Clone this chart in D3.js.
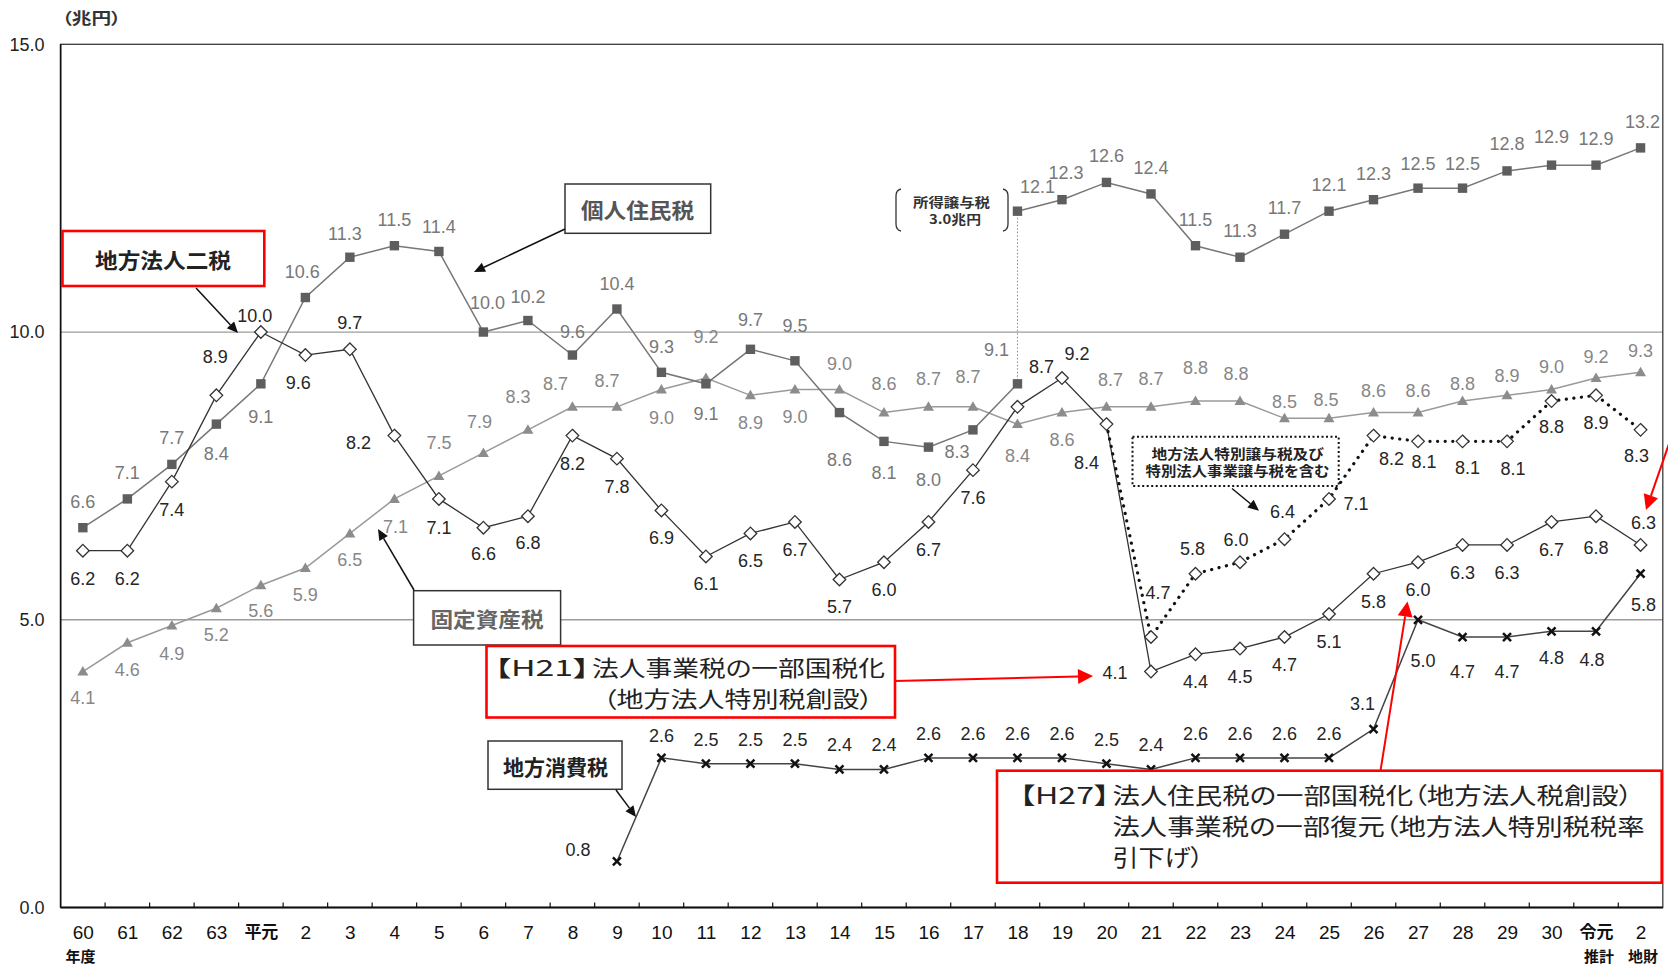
<!DOCTYPE html>
<html>
<head>
<meta charset="utf-8">
<script src="https://cdn.jsdelivr.net/npm/d3@7"></script>
<style>
  html, body { margin: 0; padding: 0; background: #fff; }
  svg { display: block; }
  text { font-family: "Liberation Sans", Arial, "Noto Sans CJK JP", sans-serif; }
  .jp { font-family: "Noto Sans CJK JP", sans-serif; }
</style>
</head>
<body>
<svg id="chart" width="1668" height="968"></svg>
<script>
// ---- data (兆円) ----
const categories = ["60","61","62","63","平元","2","3","4","5","6","7","8","9","10","11","12","13","14","15","16","17","18","19","20","21","22","23","24","25","26","27","28","29","30","令元","2"];
const yTicks = [0, 5, 10, 15];

// 個人住民税 (平成18年度以降は所得譲与税を含む)
const kojinJuminzei = [6.6,7.1,7.7,8.4,9.1,10.6,11.3,11.5,11.4,10.0,10.2,9.6,10.4,9.3,9.1,9.7,9.5,8.6,8.1,8.0,8.3,12.1,12.3,12.6,12.4,11.5,11.3,11.7,12.1,12.3,12.5,12.5,12.8,12.9,12.9,13.2];
const kojinExclJoyo = 9.1;      // 平成18年度 所得譲与税を除く
const joyoIndex = 21;           // 平成18年度
const shotokuJoyo = 3.0;        // 所得譲与税

// 固定資産税
const koteiShisanzei = [4.1,4.6,4.9,5.2,5.6,5.9,6.5,7.1,7.5,7.9,8.3,8.7,8.7,9.0,9.2,8.9,9.0,9.0,8.6,8.7,8.7,8.4,8.6,8.7,8.7,8.8,8.8,8.5,8.5,8.6,8.6,8.8,8.9,9.0,9.2,9.3];

// 地方法人二税
const hojinNizei = [6.2,6.2,7.4,8.9,10.0,9.6,9.7,8.2,7.1,6.6,6.8,8.2,7.8,6.9,6.1,6.5,6.7,5.7,6.0,6.7,7.6,8.7,9.2,8.4,4.1,4.4,4.5,4.7,5.1,5.8,6.0,6.3,6.3,6.7,6.8,6.3];

// 地方法人特別譲与税及び特別法人事業譲与税を含む
const hojinNizeiInclJoyo = [null,null,null,null,null,null,null,null,null,null,null,null,null,null,null,null,null,null,null,null,null,null,null,8.4,4.7,5.8,6.0,6.4,7.1,8.2,8.1,8.1,8.1,8.8,8.9,8.3];

// 地方消費税
const chihoShohizei = [null,null,null,null,null,null,null,null,null,null,null,null,0.8,2.6,2.5,2.5,2.5,2.4,2.4,2.6,2.6,2.6,2.6,2.5,2.4,2.6,2.6,2.6,2.6,3.1,5.0,4.7,4.7,4.8,4.8,5.8];

// ---- value label placement (dx, dy from the marker) ----
const kojinLabelOff = {default:[0,-26], 3:[0,30], 4:[0,33], 5:[-3,-26], 6:[-5,-23], 8:[0,-24], 9:[4,-29], 10:[0,-24], 11:[0,-23], 12:[0,-25], 13:[0,-25], 14:[0,30], 15:[0,-29], 16:[0,-35], 17:[0,47], 18:[0,32], 19:[0,33], 20:[-16,22], 21:[20,-24], 22:[4,-27], 30:[0,-24], 31:[0,-24], 32:[0,-27], 33:[0,-28], 35:[2,-26]};
const kojinExclLabelOff = [-21,-34];
const koteiLabelOff = [[0,26],[0,27],[0,28],[0,27],[0,26],[0,27],[0,27],[1,28],[0,-33],[-4,-31],[-10,-33],[-17,-23],[-10,-26],[0,28],[0,-41],[0,28],[0,27],[0,-26],[0,-29],[0,-28],[-5,-30],[0,32],[0,27],[4,-27],[0,-28],[0,-33],[-4,-27],[0,-16],[-3,-18],[0,-22],[0,-22],[0,-17],[0,-19],[0,-23],[0,-21],[0,-21]];
const hojinLabelOff = {default:[0,28], 3:[-1,-38], 4:[-6,-16], 5:[-7,28], 6:[0,-26], 7:[-36,7], 8:[0,29], 9:[0,26], 10:[0,27], 21:[24,-40], 22:[15,-24], 23:[-20,39], 24:[-36,1], 34:[0,32], 35:[3,-22]};
const hojinInclLabelOff = {24:[7,-44], 25:[-3,-25], 26:[-4,-22], 27:[-2,-27], 28:[27,5], 29:[18,23], 30:[6,21], 31:[5,27], 32:[6,28], 33:[0,26], 34:[0,28], 35:[-4,26]};
const shohiLabelOff = {default:[0,-24], 12:[-39,-11], 13:[0,-22], 29:[-11,-25], 30:[5,41], 31:[0,35], 32:[0,35], 33:[0,27], 34:[-4,29], 35:[3,31]};

// ---- scales ----
const svg = d3.select("#chart");
const plot = {left: 60.6, right: 1662.8, top: 44.3, bottom: 907.5};
const x = d3.scalePoint().domain(d3.range(categories.length)).range([plot.left, plot.right]).padding(0.5);
const y = d3.scaleLinear().domain([0, 15]).range([plot.bottom, plot.top]);
const step = x.step();

const fmt = d3.format(".1f");
const off = (o, i) => (Array.isArray(o) ? o[i] : (o[i] || o.default || [0,0]));

// ---- frame, grid, axes ----
const gFrame = svg.append("g");
gFrame.selectAll("line.grid").data([5, 10]).join("line")
  .attr("x1", plot.left).attr("x2", plot.right)
  .attr("y1", d => y(d)).attr("y2", d => y(d))
  .attr("stroke", "#9c9c9c").attr("stroke-width", 1.3);
gFrame.append("rect")
  .attr("x", plot.left).attr("y", plot.top)
  .attr("width", plot.right - plot.left).attr("height", plot.bottom - plot.top)
  .attr("fill", "none").attr("stroke", "#3a3a3a").attr("stroke-width", 1.3);
gFrame.append("line").attr("x1", plot.left).attr("x2", plot.left).attr("y1", plot.top).attr("y2", plot.bottom)
  .attr("stroke", "#111").attr("stroke-width", 1.6);
gFrame.append("line").attr("x1", plot.left).attr("x2", plot.right).attr("y1", plot.bottom).attr("y2", plot.bottom)
  .attr("stroke", "#111").attr("stroke-width", 1.8);
// small ticks between fiscal years
gFrame.selectAll("line.tick").data(d3.range(1, categories.length)).join("line")
  .attr("x1", k => plot.left + k * step).attr("x2", k => plot.left + k * step)
  .attr("y1", plot.bottom).attr("y2", plot.bottom - 5)
  .attr("stroke", "#111").attr("stroke-width", 1.2);

const yAxis = svg.append("g").attr("transform", `translate(${plot.left},0)`)
  .call(d3.axisLeft(y).tickValues(yTicks).tickFormat(fmt).tickSize(0).tickPadding(16));
yAxis.select(".domain").remove();
yAxis.selectAll("text").attr("font-size", 18).attr("fill", "#222")
  .attr("font-family", "Liberation Sans, Arial, sans-serif");

const xAxis = svg.append("g").attr("transform", `translate(0,${plot.bottom})`)
  .call(d3.axisBottom(x).tickFormat(i => categories[i]).tickSize(0));
xAxis.select(".domain").remove();
xAxis.selectAll("text")
  .attr("y", 25).attr("dy", "0.35em")
  .attr("font-size", i => /\d/.test(categories[i]) ? 19 : 17)
  .attr("font-weight", i => /\d/.test(categories[i]) ? "normal" : "bold")
  .attr("fill", "#111")
  .attr("font-family", "Liberation Sans, Arial, Noto Sans CJK JP, sans-serif");

function plainText(g, cx, cy, str, size, fill, weight, cls) {
  return g.append("text").attr("class", cls || null)
    .attr("x", cx).attr("y", cy).attr("text-anchor", "middle").attr("dominant-baseline", "central")
    .attr("font-size", size).attr("fill", fill).attr("font-weight", weight || "normal").text(str);
}
// text squeezed/stretched to a given width, starting at x0
function fitText(g, x0, cy, str, size, len, fill, weight) {
  return g.append("text").attr("class", "jp")
    .attr("x", x0).attr("y", cy).attr("dominant-baseline", "central")
    .attr("font-size", size).attr("fill", fill).attr("font-weight", weight || "normal")
    .attr("textLength", len).attr("lengthAdjust", "spacingAndGlyphs")
    .style("font-feature-settings", '"palt"')
    .text(str);
}
function arrow(g, x1, y1, x2, y2, color, w, hl, hw) {
  const a = Math.atan2(y2 - y1, x2 - x1);
  const bx = x2 - hl * Math.cos(a), by = y2 - hl * Math.sin(a);
  g.append("line").attr("x1", x1).attr("y1", y1).attr("x2", bx).attr("y2", by)
    .attr("stroke", color).attr("stroke-width", w);
  const px = -Math.sin(a) * hw, py = Math.cos(a) * hw;
  g.append("path").attr("d", `M${x2},${y2}L${bx + px},${by + py}L${bx - px},${by - py}Z`).attr("fill", color);
}

fitText(svg, 62, 17, "（兆円）", 16, 59, "#333", "bold");
plainText(svg, 80.5, 955, "年度", 15, "#111", "bold", "jp");
plainText(svg, 1599, 955, "推計", 15, "#111", "bold", "jp");
plainText(svg, 1643, 955, "地財", 15, "#111", "bold", "jp");

// ---- lines ----
const pts = arr => arr.map((v, i) => ({i, v})).filter(d => d.v != null);
const line = d3.line().x(d => x(d.i)).y(d => y(d.v));
const gLines = svg.append("g").attr("fill", "none");

const kojinPts = pts(kojinJuminzei);
const kojinBefore = kojinPts.filter(d => d.i < joyoIndex).concat([{i: joyoIndex, v: kojinExclJoyo}]);
const kojinAfter = kojinPts.filter(d => d.i >= joyoIndex);

gLines.append("path").attr("d", line(pts(koteiShisanzei))).attr("stroke", "#9a9a9a").attr("stroke-width", 1.5);
gLines.append("path").attr("d", line(kojinBefore)).attr("stroke", "#777").attr("stroke-width", 1.5);
gLines.append("path").attr("d", line(kojinAfter)).attr("stroke", "#777").attr("stroke-width", 1.5);
gLines.append("line")
  .attr("x1", x(joyoIndex)).attr("x2", x(joyoIndex))
  .attr("y1", y(kojinExclJoyo)).attr("y2", y(kojinJuminzei[joyoIndex]))
  .attr("stroke", "#888").attr("stroke-width", 1).attr("stroke-dasharray", "1.5 2");
gLines.append("path").attr("d", line(pts(hojinNizei))).attr("stroke", "#333").attr("stroke-width", 1.3);
gLines.append("path").attr("d", line(pts(hojinNizeiInclJoyo))).attr("stroke", "#111")
  .attr("stroke-width", 3.2).attr("stroke-linecap", "round").attr("stroke-dasharray", "0.1 7.5");
gLines.append("path").attr("d", line(pts(chihoShohizei))).attr("stroke", "#444").attr("stroke-width", 1.5);

// ---- markers ----
const gMarks = svg.append("g");
gMarks.selectAll("path.tri").data(pts(koteiShisanzei)).join("path")
  .attr("d", "M0,-5.5L5.5,4L-5.5,4Z")
  .attr("transform", d => `translate(${x(d.i)},${y(d.v)})`).attr("fill", "#8c8c8c");
gMarks.selectAll("rect.sq").data(kojinPts.concat([{i: joyoIndex, v: kojinExclJoyo}])).join("rect")
  .attr("x", d => x(d.i) - 4.7).attr("y", d => y(d.v) - 4.7)
  .attr("width", 9.4).attr("height", 9.4).attr("fill", "#5e5e5e");
const diamond = "M0,-6.3L6.3,0L0,6.3L-6.3,0Z";
gMarks.selectAll("path.dia").data(pts(hojinNizei).concat(pts(hojinNizeiInclJoyo).filter(d => d.i > 23))).join("path")
  .attr("d", diamond).attr("transform", d => `translate(${x(d.i)},${y(d.v)})`)
  .attr("fill", "#fff").attr("stroke", "#333").attr("stroke-width", 1.3);
gMarks.selectAll("path.cross").data(pts(chihoShohizei)).join("path")
  .attr("d", "M-4,-4L4,4M4,-4L-4,4").attr("transform", d => `translate(${x(d.i)},${y(d.v)})`)
  .attr("stroke", "#111").attr("stroke-width", 2.5).attr("fill", "none");

// ---- value labels ----
const gLab = svg.append("g");
function labels(data, offsets, color) {
  data.forEach(d => {
    const o = off(offsets, d.i);
    plainText(gLab, x(d.i) + o[0], y(d.v) + o[1], fmt(d.v), 18, color);
  });
}
labels(kojinPts, kojinLabelOff, "#787878");
plainText(gLab, x(joyoIndex) + kojinExclLabelOff[0], y(kojinExclJoyo) + kojinExclLabelOff[1], fmt(kojinExclJoyo), 18, "#787878");
labels(pts(koteiShisanzei), koteiLabelOff, "#878787");
labels(pts(hojinNizei), hojinLabelOff, "#262626");
labels(pts(hojinNizeiInclJoyo).filter(d => d.i > 23), hojinInclLabelOff, "#262626");
labels(pts(chihoShohizei), shohiLabelOff, "#262626");

// ---- annotations ----
const gAnn = svg.append("g");

// 所得譲与税
const brL = 896, brR = 1008, brT = 189, brB = 231;
gAnn.append("path").attr("d", `M${brL + 5},${brT} Q${brL},${brT + 1} ${brL},${brT + 7} L${brL},${brB - 7} Q${brL},${brB - 1} ${brL + 5},${brB}`)
  .attr("fill", "none").attr("stroke", "#333").attr("stroke-width", 1.3);
gAnn.append("path").attr("d", `M${brR - 5},${brT} Q${brR},${brT + 1} ${brR},${brT + 7} L${brR},${brB - 7} Q${brR},${brB - 1} ${brR - 5},${brB}`)
  .attr("fill", "none").attr("stroke", "#333").attr("stroke-width", 1.3);
fitText(gAnn, 913, 201, "所得譲与税", 13, 77, "#333", "bold");
fitText(gAnn, 929, 218.5, `${fmt(shotokuJoyo)}兆円`, 13, 52, "#333", "bold");

// 地方法人二税
gAnn.append("rect").attr("x", 62.5).attr("y", 231).attr("width", 201.8).attr("height", 55)
  .attr("fill", "#fff").attr("stroke", "#f00").attr("stroke-width", 2.6);
fitText(gAnn, 95, 259, "地方法人二税", 21, 136, "#222", "bold");
arrow(gAnn, 196, 288, 238, 333, "#111", 1.5, 11, 5);

// 個人住民税
gAnn.append("rect").attr("x", 565).attr("y", 184).attr("width", 145.7).attr("height", 49.3)
  .attr("fill", "#fff").attr("stroke", "#333").attr("stroke-width", 1.5);
fitText(gAnn, 581, 209, "個人住民税", 21, 113, "#555", "bold");
arrow(gAnn, 565, 229, 474, 272, "#111", 1.5, 11, 5);

// 固定資産税
gAnn.append("rect").attr("x", 413.6).attr("y", 590.7).attr("width", 147).attr("height", 54.3)
  .attr("fill", "#fff").attr("stroke", "#333").attr("stroke-width", 1.5);
fitText(gAnn, 430.5, 617.5, "固定資産税", 21, 113, "#666", "bold");
arrow(gAnn, 414, 590, 378, 529, "#111", 1.5, 11, 5);

// 地方消費税
gAnn.append("rect").attr("x", 488).attr("y", 741).attr("width", 134).attr("height", 48.3)
  .attr("fill", "#fff").attr("stroke", "#333").attr("stroke-width", 1.5);
fitText(gAnn, 503, 766, "地方消費税", 21, 105, "#222", "bold");
arrow(gAnn, 616, 790, 636, 817, "#111", 1.5, 11, 5);

// 地方法人特別譲与税等を含む系列の説明
gAnn.append("rect").attr("x", 1132.5).attr("y", 436.7).attr("width", 206.2).attr("height", 49.3)
  .attr("fill", "#fff").attr("stroke", "#111").attr("stroke-width", 2).attr("stroke-dasharray", "2 2.5");
fitText(gAnn, 1151.5, 453.3, "地方法人特別譲与税及び", 14, 172, "#222", "bold");
fitText(gAnn, 1145.5, 470, "特別法人事業譲与税を含む", 14, 184, "#222", "bold");
arrow(gAnn, 1232, 488.5, 1259, 510.7, "#111", 1.5, 11, 5);

// 【H21】
gAnn.append("rect").attr("x", 486.5).attr("y", 646).attr("width", 408.5).attr("height", 71.5)
  .attr("fill", "#fff").attr("stroke", "#f00").attr("stroke-width", 2.6);
fitText(gAnn, 494, 666, "【H21】", 22, 96, "#222");
fitText(gAnn, 592, 666, "法人事業税の一部国税化", 22, 293, "#222");
fitText(gAnn, 603, 697, "（地方法人特別税創設）", 22, 270, "#222");
arrow(gAnn, 895, 681, 1093, 676, "#f00", 2, 15, 7.5);

// 【H27】
gAnn.append("rect").attr("x", 997).attr("y", 770.7).attr("width", 664.7).attr("height", 112)
  .attr("fill", "#fff").attr("stroke", "#f00").attr("stroke-width", 2.6);
fitText(gAnn, 1019, 794, "【H27】", 23, 91, "#222");
fitText(gAnn, 1112.5, 794, "法人住民税の一部国税化（地方法人税創設）", 23, 520, "#222");
fitText(gAnn, 1112.5, 825, "法人事業税の一部復元（地方法人特別税税率", 23, 532, "#222");
fitText(gAnn, 1112.5, 856, "引下げ）", 23, 91, "#222");
arrow(gAnn, 1380.5, 770.7, 1407.5, 601.5, "#f00", 2, 15, 7.5);
arrow(gAnn, 1671, 438, 1646, 510, "#f00", 2, 15, 7.5);
</script>
</body>
</html>
